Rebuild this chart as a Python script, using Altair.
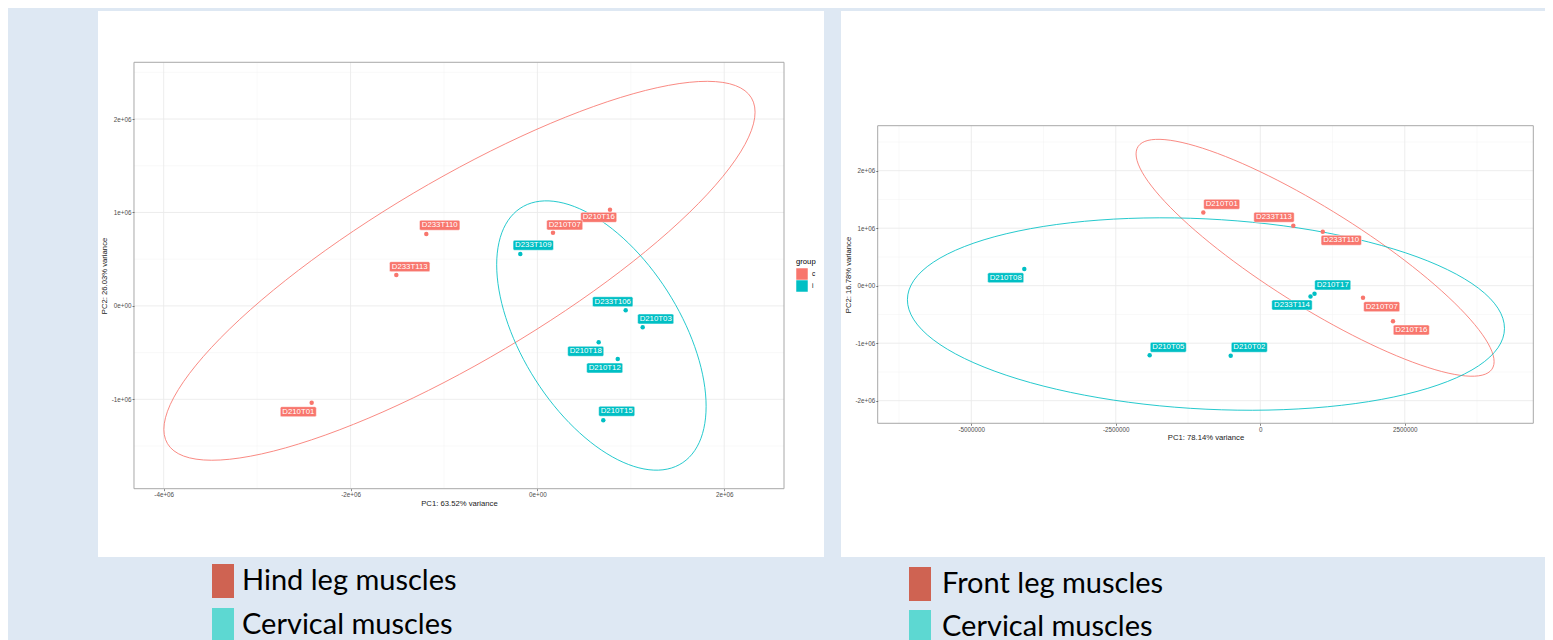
import altair as alt
import numpy as np
import pandas as pd

# ------------------------------------------------------------------ data
# Left PCA (hind leg "c" vs cervical "i")
L_SAMPLES = ["D233T110", "D233T113", "D210T01", "D210T16", "D210T07",
             "D233T109", "D233T106", "D210T03", "D210T18", "D210T12", "D210T15"]
L_GROUPS = ["c", "c", "c", "c", "c", "i", "i", "i", "i", "i", "i"]
L_PC1 = [-1189000, -1510000, -2416000, 777000, 167000,
         -183000, 945000, 1127000, 656000, 860000, 705000]
L_PC2 = [770000, 331000, -1036000, 1030000, 784000,
         556000, -47000, -229000, -390000, -568000, -1224000]
L_LAB_PC1 = [-1046000, -1367000, -2559000, 656000, 292000,
             -44000, 806000, 1266000, 517000, 720000, 849000]
L_LAB_PC2 = [863000, 420000, -1132000, 948000, 866000,
             649000, 45000, -140000, -486000, -665000, -1128000]
L_XTITLE = "PC1: 63.52% variance"
L_YTITLE = "PC2: 26.03% variance"
L_X_MAJOR = [-4000000, -2000000, 0, 2000000]
L_X_MINOR = [-3000000, -1000000, 1000000]
L_Y_MAJOR = [-1000000, 0, 1000000, 2000000]
L_Y_MINOR = [-1500000, -500000, 500000, 1500000, 2500000]
L_PANEL_X = [-4317700, 2639400]
L_PANEL_Y = [-1956500, 2607300]
L_VIEW_X = [-4702900, 3067500]
L_VIEW_Y = [-2687600, 3156300]
L_CAPTIONS = ["Hind leg muscles", "Cervical muscles"]

# Right PCA (front leg "c" vs cervical "i")
R_SAMPLES = ["D210T08", "D210T05", "D210T02", "D210T17", "D233T114",
             "D210T01", "D233T113", "D233T110", "D210T07", "D210T16"]
R_GROUPS = ["i", "i", "i", "i", "i", "c", "c", "c", "c", "c"]
R_PC1 = [-4083000, -1914000, -512000, 938000, 869000,
         -986000, 571000, 1081000, 1777000, 2296000]
R_PC2 = [290000, -1210000, -1217000, -139000, -188000,
         1273000, 1042000, 939000, -209000, -617000]
R_LAB_PC1 = [-4405000, -1592000, -190000, 1253000, 548000,
             -668000, 237000, 1401000, 2100000, 2613000]
R_LAB_PC2 = [139000, -1071000, -1071000, 12000, -336000,
             1416000, 1190000, 790000, -365000, -770000]
R_XTITLE = "PC1: 78.14% variance"
R_YTITLE = "PC2: 16.78% variance"
R_X_MAJOR = [-5000000, -2500000, 0, 2500000]
R_X_MINOR = [-6250000, -3750000, -1250000, 1250000, 3750000]
R_Y_MAJOR = [-2000000, -1000000, 0, 1000000, 2000000]
R_Y_MINOR = [-1500000, -500000, 500000, 1500000, 2500000]
R_PANEL_X = [-6619400, 4723200]
R_PANEL_Y = [-2393000, 2782600]
R_VIEW_X = [-7254300, 4925600]
R_VIEW_Y = [-4718300, 4777400]
R_CAPTIONS = ["Front leg muscles", "Cervical muscles"]

GROUP_DOMAIN = ["c", "i"]

# ------------------------------------------------------------------ style
GROUP_COLORS = ["#F8766D", "#00BFC4"]
CAPTION_COLORS = ["#CF6352", "#5DD8D2"]
SLIDE_BG = "#DEE8F3"
GRID_MAJOR = "#EBEBEB"
GRID_MINOR = "#F3F3F3"
BORDER = "#A8A8A8"
SANS = "Liberation Sans"
LABEL_FONT_PX = 7.8
BOX_H = 10
BOX_PAD = 2
BOX_SIZE = 1600
UNIT = np.sqrt(BOX_SIZE) / 2
CAP_RECT = "M-0.647,-1L0.647,-1L0.647,1L-0.647,1Z"

SCI_EXPR = "replace(replace(format(datum.value, '.0e'), 'e+', 'e+0'), '\u2212', '-')"
INT_EXPR = "replace(format(datum.value, 'd'), '\u2212', '-')"


def text_width(s, px):
    w = {"D": 0.722, "T": 0.611}
    return sum(w.get(ch, 0.556) for ch in s) * px


def box_path(s):
    hw = (text_width(s, LABEL_FONT_PX) + 2 * BOX_PAD) / 2 / UNIT
    hh = BOX_H / 2 / UNIT
    r = 1.5 / UNIT
    f = lambda v: f"{v:.4f}"
    return (f"M{f(-hw + r)},{f(-hh)}L{f(hw - r)},{f(-hh)}Q{f(hw)},{f(-hh)},{f(hw)},{f(-hh + r)}"
            f"L{f(hw)},{f(hh - r)}Q{f(hw)},{f(hh)},{f(hw - r)},{f(hh)}"
            f"L{f(-hw + r)},{f(hh)}Q{f(-hw)},{f(hh)},{f(-hw)},{f(hh - r)}"
            f"L{f(-hw)},{f(-hh + r)}Q{f(-hw)},{f(-hh)},{f(-hw + r)},{f(-hh)}Z")


def ellipse_df(pc1, pc2, groups, level=0.95, segments=120):
    # normal-theory confidence ellipse: mean + sqrt(qchisq(level, 2)) * chol(cov)
    radius = np.sqrt(-2 * np.log(1 - level))
    t = np.linspace(0, 2 * np.pi, segments + 1)
    circ = np.column_stack([np.cos(t), np.sin(t)])
    rows = []
    for g in GROUP_DOMAIN:
        pts = np.array([[a, b] for a, b, gg in zip(pc1, pc2, groups) if gg == g], dtype=float)
        center = pts.mean(axis=0)
        U = np.linalg.cholesky(np.cov(pts.T)).T
        e = center + radius * circ @ U
        for i, (ex, ey) in enumerate(e):
            rows.append({"group": g, "i": i, "x": ex, "y": ey})
    return pd.DataFrame(rows)


def build_panel(samples, groups, pc1, pc2, lab1, lab2, xtitle, ytitle,
                xmaj, xmin_, ymaj, ymin_, panel_x, panel_y, view_x, view_y,
                captions, x_expr, W, H, group_legend_x, cap_x, cap_y,
                cap_row_pad, cap_label_offset, xtitle_dy):
    sx = W / (view_x[1] - view_x[0])
    sy = H / (view_y[1] - view_y[0])
    xs = alt.Scale(domain=view_x, nice=False, zero=False)
    ys = alt.Scale(domain=view_y, nice=False, zero=False)
    cscale = alt.Scale(domain=GROUP_DOMAIN, range=GROUP_COLORS)

    axis_common = dict(domain=False, grid=False, ticks=True, tickColor="#333333",
                       tickSize=2, tickWidth=0.6, labelFont=SANS, labelFontSize=6.3,
                       labelColor="#4D4D4D", labelPadding=1, labelOverlap=False,
                       labelFlush=False, titleFont=SANS, titleFontSize=7.7,
                       titleFontWeight="normal", titleColor="#1A1A1A",
                       titleBaseline="middle", zindex=2)
    x_axis = alt.Axis(values=xmaj, labelExpr=x_expr, title=xtitle,
                      offset=-(panel_y[0] - view_y[0]) * sy,
                      titleX=((panel_x[0] + panel_x[1]) / 2 - view_x[0]) * sx,
                      titleY=xtitle_dy, **axis_common)
    y_axis = alt.Axis(values=ymaj, labelExpr=SCI_EXPR, title=ytitle,
                      offset=-(panel_x[0] - view_x[0]) * sx,
                      titleX=-29.5, titleAngle=270,
                      titleY=(view_y[1] - (panel_y[0] + panel_y[1]) / 2) * sy,
                      **axis_common)
    if group_legend_x is None:
        glegend = None
    else:
        glegend = alt.Legend(
            orient="none", legendX=group_legend_x, legendY=247, title="group",
            titleFont=SANS, titleFontSize=7.7, titleFontWeight="normal",
            titleColor="black", titlePadding=2.3, labelFont=SANS, labelFontSize=6.5,
            labelColor="black", symbolType="square", symbolSize=132,
            symbolStrokeWidth=0, symbolOpacity=1, rowPadding=0, labelOffset=4, padding=0)

    def X(f):
        return alt.X(f, scale=xs, axis=x_axis)

    def Y(f):
        return alt.Y(f, scale=ys, axis=y_axis)

    def C():
        return alt.Color("group:N", scale=cscale, legend=glegend)

    pts = pd.DataFrame({"sample": samples, "group": groups, "x": pc1, "y": pc2,
                        "lx": lab1, "ly": lab2,
                        "path": [box_path(s) for s in samples]})
    ell = ellipse_df(pc1, pc2, groups)

    vdf = pd.DataFrame({"x0": [view_x[0]], "x1": [view_x[1]],
                        "y0": [view_y[0]], "y1": [view_y[1]]})
    white = alt.Chart(vdf).mark_rect(fill="white", strokeWidth=0).encode(
        x=X("x0:Q"), x2="x1:Q", y=Y("y0:Q"), y2="y1:Q")

    def vgrid(vals, col, w):
        d = pd.DataFrame({"x": vals, "y0": panel_y[0], "y1": panel_y[1]})
        return alt.Chart(d).mark_rule(color=col, strokeWidth=w).encode(
            x=X("x:Q"), y=Y("y0:Q"), y2="y1:Q")

    def hgrid(vals, col, w):
        d = pd.DataFrame({"y": vals, "x0": panel_x[0], "x1": panel_x[1]})
        return alt.Chart(d).mark_rule(color=col, strokeWidth=w).encode(
            y=Y("y:Q"), x=X("x0:Q"), x2="x1:Q")

    group_key = alt.Chart(pts).mark_point(filled=True, shape="square", opacity=1).encode(
        x=X("x:Q"), y=Y("y:Q"), color=C()).transform_filter("false")

    ellipses = alt.Chart(ell).mark_line(strokeWidth=1, opacity=0.85).encode(
        x=X("x:Q"), y=Y("y:Q"), order="i:Q", color=C())

    points = alt.Chart(pts).mark_circle(size=20, opacity=1).encode(
        x=X("x:Q"), y=Y("y:Q"), color=C())

    boxes = alt.Chart(pts).mark_point(filled=True, opacity=1, size=BOX_SIZE,
                                      stroke="white", strokeWidth=0.5).encode(
        x=X("lx:Q"), y=Y("ly:Q"), color=C(),
        shape=alt.Shape("path:N", scale=None))

    texts = alt.Chart(pts).mark_text(color="white", font=SANS, fontSize=LABEL_FONT_PX,
                                     align="center", baseline="middle").encode(
        x=X("lx:Q"), y=Y("ly:Q"), text="sample:N")

    bdf = pd.DataFrame({"x0": [panel_x[0]], "x1": [panel_x[1]],
                        "y0": [panel_y[0]], "y1": [panel_y[1]]})
    border = alt.Chart(bdf).mark_rect(fillOpacity=0, stroke=BORDER, strokeWidth=1).encode(
        x=X("x0:Q"), x2="x1:Q", y=Y("y0:Q"), y2="y1:Q")

    cap_legend = alt.Chart(pd.DataFrame({"caption": captions})).mark_point(
        filled=True, shape=CAP_RECT, opacity=1).encode(
        fill=alt.Fill("caption:N", scale=alt.Scale(domain=captions, range=CAPTION_COLORS),
                      legend=alt.Legend(orient="none", legendX=cap_x, legendY=cap_y,
                                        title=None, labelFont="Lato", labelFontSize=29,
                                        labelColor="black", labelLimit=600,
                                        symbolType=CAP_RECT, symbolSize=1156,
                                        symbolStrokeWidth=0, symbolOpacity=1,
                                        rowPadding=cap_row_pad,
                                        labelOffset=cap_label_offset, padding=0))
    ).transform_filter("false")

    return alt.layer(
        white,
        vgrid(xmin_, GRID_MINOR, 0.5), hgrid(ymin_, GRID_MINOR, 0.5),
        vgrid(xmaj, GRID_MAJOR, 0.9), hgrid(ymaj, GRID_MAJOR, 0.9),
        group_key, ellipses, points, boxes, texts, border, cap_legend
    ).properties(width=W, height=H)


left = build_panel(L_SAMPLES, L_GROUPS, L_PC1, L_PC2, L_LAB_PC1, L_LAB_PC2,
                   L_XTITLE, L_YTITLE, L_X_MAJOR, L_X_MINOR, L_Y_MAJOR, L_Y_MINOR,
                   L_PANEL_X, L_PANEL_Y, L_VIEW_X, L_VIEW_Y, L_CAPTIONS, SCI_EXPR,
                   726, 546, 698, 108, 553, 10, 2, 15.3)
right = build_panel(R_SAMPLES, R_GROUPS, R_PC1, R_PC2, R_LAB_PC1, R_LAB_PC2,
                    R_XTITLE, R_YTITLE, R_X_MAJOR, R_X_MINOR, R_Y_MAJOR, R_Y_MINOR,
                    R_PANEL_X, R_PANEL_Y, R_VIEW_X, R_VIEW_Y, R_CAPTIONS, INT_EXPR,
                    704, 546, None, 62, 556, 9, 5, 13.8)

chart = alt.hconcat(left, right, spacing=17).resolve_scale(
    x="independent", y="independent", color="independent", fill="independent"
).resolve_legend(color="independent", fill="independent").properties(
    padding={"left": 90, "top": 3, "right": 0, "bottom": 0},
    background=SLIDE_BG
).configure_view(stroke=None)

chart.save("out.html", embed_options={"renderer": "svg", "actions": False})
